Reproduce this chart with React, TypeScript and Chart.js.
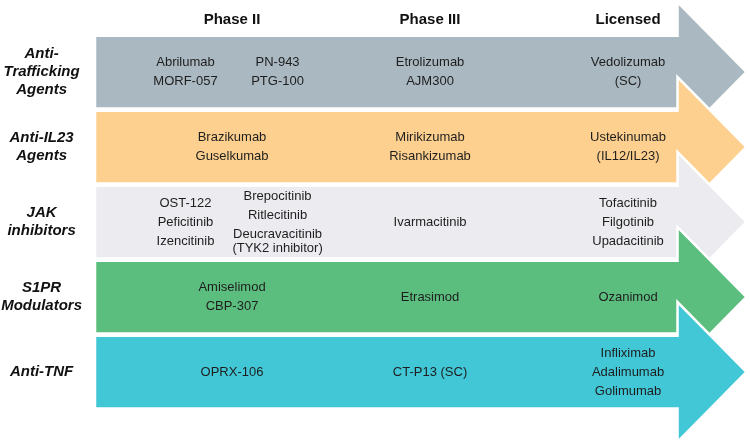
import React, { useEffect, useRef } from "react";
import { Chart, registerables } from "chart.js";

Chart.register(...registerables);

// ---- data ----
const rowLabels: (string | string[])[] = [
  ["Anti-", "Trafficking", "Agents"],
  ["Anti-IL23", "Agents"],
  ["JAK", "inhibitors"],
  ["S1PR", "Modulators"],
  "Anti-TNF",
];
const phaseLabels = ["Phase II", "Phase III", "Licensed"];
const phaseValues = [1, 2, 3];
const arrowStart = 0.308;
const arrowEnd = 3.25;
const arrowColors = ["#AAB8C1", "#FED08F", "#ECEBEF", "#5CBE7E", "#42C7D7"];

// Phase II cells may hold two sub-columns of drugs
const phase2Drugs: string[][][] = [
  [["Abrilumab", "MORF-057"], ["PN-943", "PTG-100"]],
  [["Brazikumab", "Guselkumab"]],
  [["OST-122", "Peficitinib", "Izencitinib"], ["Brepocitinib", "Ritlecitinib", "Deucravacitinib\n(TYK2 inhibitor)"]],
  [["Amiselimod", "CBP-307"]],
  [["OPRX-106"]],
];
const phase3Drugs: string[][] = [
  ["Etrolizumab", "AJM300"],
  ["Mirikizumab", "Risankizumab"],
  ["Ivarmacitinib"],
  ["Etrasimod"],
  ["CT-P13 (SC)"],
];
const licensedDrugs: string[][] = [
  ["Vedolizumab", "(SC)"],
  ["Ustekinumab", "(IL12/IL23)"],
  ["Tofacitinib", "Filgotinib", "Upadacitinib"],
  ["Ozanimod"],
  ["Infliximab", "Adalimumab", "Golimumab"],
];

const FONT = '"Liberation Sans", Arial, Helvetica, sans-serif';

const arrowPlugin = {
  id: "arrows",
  afterDatasetsDraw(chart: any) {
    const ctx = chart.ctx as CanvasRenderingContext2D;
    const meta = chart.getDatasetMeta(0);
    const colors = chart.data.datasets[0].backgroundColor as string[];
    ctx.save();
    meta.data.forEach((el: any, i: number) => {
      const { x, y, base, height } = el.getProps(["x", "y", "base", "height"], true);
      const half = height / 2;
      const headH = height * 0.96;
      const headL = 69;
      ctx.beginPath();
      ctx.moveTo(base, y - half);
      ctx.lineTo(x, y - half);
      ctx.lineTo(x, y - headH);
      ctx.lineTo(x + headL, y);
      ctx.lineTo(x, y + headH);
      ctx.lineTo(x, y + half);
      ctx.lineTo(base, y + half);
      ctx.closePath();
      ctx.fillStyle = colors[i];
      ctx.fill();
      ctx.lineWidth = 2.5;
      ctx.strokeStyle = "#ffffff";
      ctx.lineJoin = "miter";
      ctx.stroke();
    });
    ctx.restore();

    // drug names
    const xs = chart.scales.x;
    const ys = chart.scales.y;
    ctx.save();
    ctx.font = `13px ${FONT}`;
    ctx.fillStyle = "#1e1e1e";
    ctx.textAlign = "center";
    ctx.textBaseline = "middle";
    const itemGap = 19;
    const wrapGap = 14;
    const drawColumn = (items: string[], cx: number, cy: number) => {
      const lines: number[] = [];
      const texts: string[] = [];
      let pos = 0;
      items.forEach((it, k) => {
        if (k > 0) pos += itemGap;
        it.split("\n").forEach((ln, j) => {
          if (j > 0) pos += wrapGap;
          lines.push(pos);
          texts.push(ln);
        });
      });
      const off = pos / 2;
      texts.forEach((t, k) => ctx.fillText(t, cx, cy - off + lines[k]));
    };
    const subOffsets = [-0.235, 0.23];
    rowLabels.forEach((_, i) => {
      const cy = ys.getPixelForValue(i);
      const cols = phase2Drugs[i];
      cols.forEach((col, c) => {
        const dx = cols.length > 1 ? subOffsets[c] : 0;
        drawColumn(col, xs.getPixelForValue(phaseValues[0] + dx), cy);
      });
      drawColumn(phase3Drugs[i], xs.getPixelForValue(phaseValues[1]), cy);
      drawColumn(licensedDrugs[i], xs.getPixelForValue(phaseValues[2]), cy);
    });
    ctx.restore();
  },
};

export default function App() {
  const ref = useRef<HTMLCanvasElement | null>(null);
  useEffect(() => {
    document.body.style.margin = "0";
    const canvas = ref.current!;
    const chart = new Chart(canvas, {
      type: "bar",
      data: {
        labels: rowLabels as any,
        datasets: [
          {
            data: rowLabels.map(() => [arrowStart, arrowEnd]) as any,
            backgroundColor: arrowColors,
            borderWidth: 0,
            barPercentage: 0.97,
            categoryPercentage: 1,
          },
        ],
      },
      options: {
        indexAxis: "y",
        responsive: false,
        animation: false,
        layout: { padding: { top: 0, bottom: 32.5, left: 0, right: 0 } },
        plugins: { legend: { display: false }, tooltip: { enabled: false } },
        scales: {
          x: {
            type: "linear",
            position: "top",
            min: arrowStart,
            max: 3.616,
            grid: { display: false },
            border: { display: false },
            afterBuildTicks: (s: any) => {
              s.ticks = phaseValues.map((v) => ({ value: v }));
            },
            afterFit: (s: any) => {
              s.height = 34.5;
            },
            ticks: {
              autoSkip: false,
              maxRotation: 0,
              padding: -2.5,
              color: "#111111",
              font: { family: FONT, size: 15, weight: "bold" },
              callback: (v: any) => phaseLabels[phaseValues.indexOf(Number(v))],
            },
          },
          y: {
            type: "category",
            grid: { display: false },
            border: { display: false },
            afterFit: (s: any) => {
              s.width = 95;
            },
            ticks: {
              crossAlign: "center",
              padding: 5,
              color: "#111111",
              font: { family: FONT, size: 15, weight: "bold", style: "italic", lineHeight: 1.2 },
            },
          },
        },
      } as any,
      plugins: [arrowPlugin],
    });
    return () => chart.destroy();
  }, []);
  return (
    <div style={{ position: "fixed", left: 0, top: 0, width: 750, height: 442, background: "#fff" }}>
      <canvas ref={ref} width={750} height={442} />
    </div>
  );
}
